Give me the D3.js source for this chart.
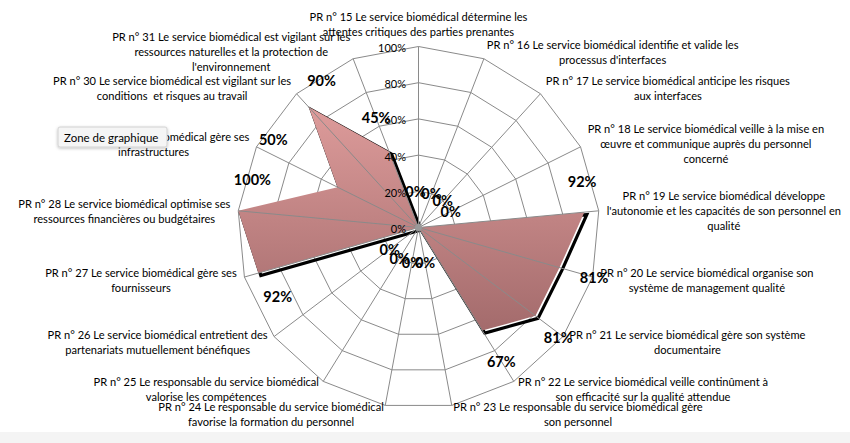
<!DOCTYPE html>
<html>
<head>
<meta charset="utf-8">
<script src="https://cdn.jsdelivr.net/npm/d3@7"></script>
<style>
  html, body { margin: 0; padding: 0; background: #ffffff; }
  svg { display: block; }
  text { font-family: Lato, "Open Sans", sans-serif; fill: #000; }
</style>
</head>
<body>
<svg id="chart" width="850" height="443"></svg>
<script>
// ---------- data ----------
const categories = [
  "PR n° 15 Le service biomédical détermine les\nattentes critiques des parties prenantes",
  "PR n° 16 Le service biomédical identifie et valide les\nprocessus d'interfaces",
  "PR n° 17 Le service biomédical anticipe les risques\naux interfaces",
  "PR n° 18 Le service biomédical veille à la mise en\nœuvre et communique auprès du personnel\nconcerné",
  "PR n° 19 Le service biomédical développe\nl'autonomie et les capacités de son personnel en\nqualité",
  "PR n° 20 Le service biomédical organise son\nsystème de management qualité",
  "PR n° 21 Le service biomédical gère son système\ndocumentaire",
  "PR n° 22 Le service biomédical veille continûment à\nson efficacité sur la qualité attendue",
  "PR n° 23 Le responsable du service biomédical gère\nson personnel",
  "PR n° 24 Le responsable du service biomédical\nfavorise la formation du personnel",
  "PR n° 25 Le responsable du service biomédical\nvalorise les compétences",
  "PR n° 26 Le service biomédical entretient des\npartenariats mutuellement bénéfiques",
  "PR n° 27 Le service biomédical gère ses\nfournisseurs",
  "PR n° 28 Le service biomédical optimise ses\nressources financières ou budgétaires",
  "PR n° 29 Le service biomédical gère ses\ninfrastructures",
  "PR n° 30 Le service biomédical est vigilant sur les\nconditions  et risques au travail",
  "PR n° 31 Le service biomédical est vigilant sur les\nressources naturelles et la protection de\nl'environnement"
];
const values = [0, 0, 0, 0, 0.92, 0.81, 0.81, 0.67, 0, 0, 0, 0, 0.92, 1.00, 0.50, 0.90, 0.45];
const tickValues = [0, 0.2, 0.4, 0.6, 0.8, 1.0];
const tooltipText = "Zone de graphique";

// manual data-label nudges (as dragged in the original workbook), px
const labelNudge = [[-3,0],[0,0],[0,0],[0,0],[-38,-27],[0,0],[-6,0],[0,0],[0,0],[0,0],[0,0],[0,0],[54,14],[50,-28],[-32,-32],[37,0],[0,0]];

// ---------- layout ----------
const W = 850, H = 443;
const cx = 418.5, cy = 227.5, R = 181;
const n = categories.length;
const svg = d3.select("#chart");
const fmt = d3.format(".0%");

svg.append("rect").attr("x", 0).attr("y", 432).attr("width", W).attr("height", H - 432).attr("fill", "#f4f4f4");

const angle = d3.scaleLinear().domain([0, n]).range([0, 2 * Math.PI]);
const r = d3.scaleLinear().domain([0, 1]).range([0, R]);
const px = (i, v) => cx + r(v) * Math.sin(angle(i));
const py = (i, v) => cy - r(v) * Math.cos(angle(i));

const g = svg.append("g");

// defs
const defs = svg.append("defs");
const grad = defs.append("linearGradient").attr("id", "fillGrad")
  .attr("gradientUnits", "userSpaceOnUse").attr("x1", 0).attr("y1", 100 - cy).attr("x2", 0).attr("y2", 340 - cy);
grad.append("stop").attr("offset", "0%").attr("stop-color", "#df9d9c");
grad.append("stop").attr("offset", "100%").attr("stop-color", "#a1696a");
const flt = defs.append("filter").attr("id", "tipShadow").attr("x", "-20%").attr("y", "-40%").attr("width", "140%").attr("height", "180%");
flt.append("feDropShadow").attr("dx", 0).attr("dy", 1).attr("stdDeviation", 1.5).attr("flood-color", "#000").attr("flood-opacity", 0.25);

// rings
const ringLine = d3.lineRadial().angle((d, i) => angle(i)).radius(d => r(d)).curve(d3.curveLinearClosed);
g.append("g").attr("transform", `translate(${cx},${cy})`)
  .selectAll("path").data(tickValues.filter(t => t > 0)).join("path")
  .attr("d", t => ringLine(d3.range(n).map(() => t)))
  .attr("fill", "none").attr("stroke", "#8a8a8a").attr("stroke-width", 1);

// series shadow + fill
const areaLine = d3.lineRadial().angle((d, i) => angle(i)).radius(d => r(d)).curve(d3.curveLinearClosed);
g.append("path").attr("transform", `translate(${cx + 2.5},${cy + 2.5})`)
  .attr("d", areaLine(values)).attr("fill", "none").attr("stroke", "#000").attr("stroke-width", 3.2)
  .attr("stroke-linejoin", "miter");
g.append("path").attr("transform", `translate(${cx},${cy})`)
  .attr("d", areaLine(values)).attr("fill", "url(#fillGrad)").attr("stroke", "none");

// spokes (drawn over the fill)
g.append("g").selectAll("line").data(d3.range(n)).join("line")
  .attr("x1", cx).attr("y1", cy)
  .attr("x2", i => px(i, 1)).attr("y2", i => py(i, 1))
  .attr("stroke", "#8a8a8a").attr("stroke-width", 1);
g.append("circle").attr("cx", cx).attr("cy", cy).attr("r", 3.5).attr("fill", "#999");

// tick labels
g.append("g").selectAll("text").data(tickValues).join("text")
  .attr("x", cx - 12.5).attr("y", t => cy - r(t) + 1)
  .attr("text-anchor", "end").attr("dominant-baseline", "central")
  .attr("font-size", 11).text(t => fmt(t));

// category labels
const lh = 15;
const catG = g.append("g");
categories.forEach((c, i) => {
  const lines = c.split("\n");
  const a = angle(i);
  const s = Math.sin(a), co = Math.cos(a);
  const ax = cx + (R + 8) * s, ay = cy - (R + 8) * co;
  const t = catG.append("text").attr("font-size", 11.1).attr("text-anchor", "middle")
    .attr("dominant-baseline", "central").attr("xml:space", "preserve");
  const spans = lines.map(l => t.append("tspan").text(l));
  const w = d3.max(spans, sp => sp.node().getComputedTextLength());
  const h = lines.length * lh;
  let midX, topY;
  if (Math.abs(s) < 0.05) {
    midX = ax; topY = (co > 0) ? ay - h : ay;
  } else {
    midX = s > 0 ? ax + w / 2 : ax - w / 2;
    topY = ay - h / 2;
  }
  spans.forEach((sp, k) => sp.attr("x", midX).attr("y", topY + lh / 2 + k * lh));
});

// data labels
g.append("g").selectAll("text").data(values).join("text")
  .attr("x", (v, i) => cx + (r(v) + 36) * Math.sin(angle(i)) + labelNudge[i][0])
  .attr("y", (v, i) => cy - (r(v) + 36) * Math.cos(angle(i)) + labelNudge[i][1])
  .attr("text-anchor", "middle").attr("dominant-baseline", "central")
  .attr("font-size", 14.5).attr("font-weight", "bold")
  .text(v => fmt(v));

// tooltip overlay
const tip = svg.append("g").attr("transform", "translate(58,127)");
tip.append("rect").attr("width", 109).attr("height", 20).attr("rx", 2)
  .attr("fill", "#f5f5f5").attr("stroke", "#d2d2d2").attr("filter", "url(#tipShadow)");
tip.append("text").attr("x", 6).attr("y", 10.5).attr("dominant-baseline", "central")
  .attr("font-size", 11.5).attr("fill", "#222").text(tooltipText);
</script>
</body>
</html>
